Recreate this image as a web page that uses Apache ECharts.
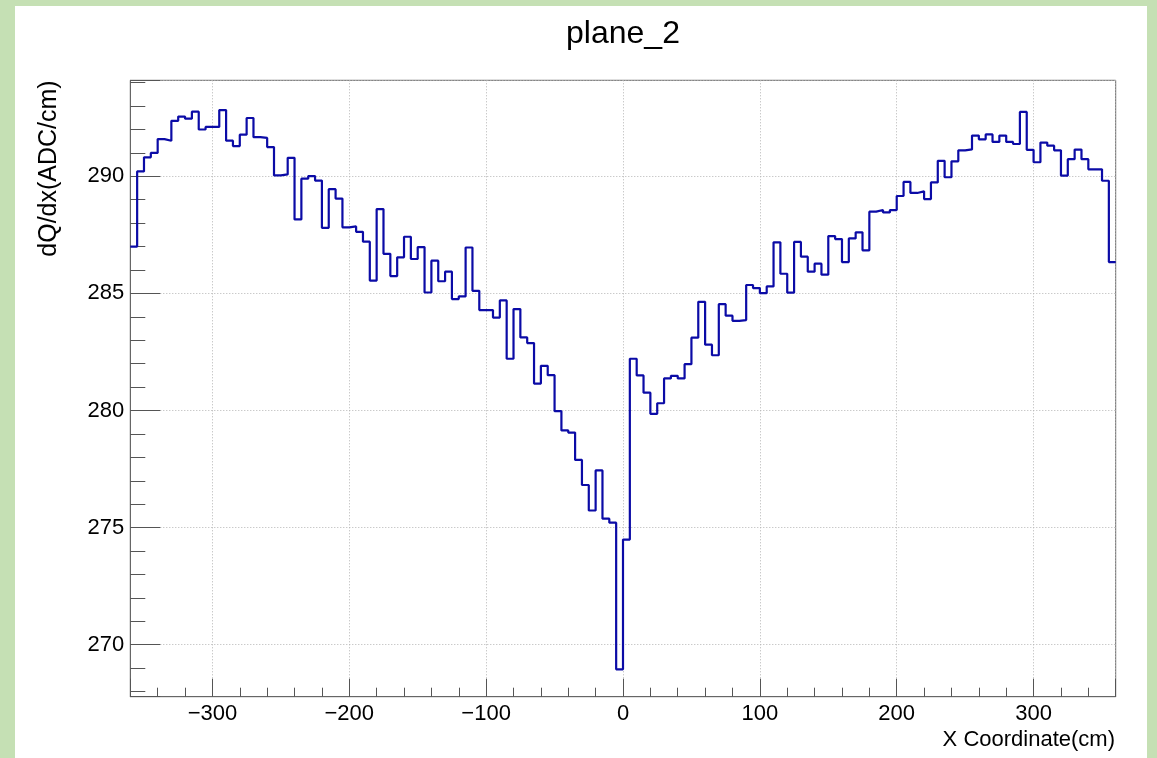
<!DOCTYPE html>
<html>
<head>
<meta charset="utf-8">
<script src="https://cdn.jsdelivr.net/npm/echarts@6/dist/echarts.min.js"></script>
<style>
  html, body { margin: 0; padding: 0; background: #c5e0b4; width: 1157px; height: 758px; overflow: hidden; }
  #chart { position: absolute; left: 15px; top: 6px; width: 1132px; height: 752px; background: #ffffff; }
</style>
</head>
<body>
<div id="chart"></div>
<script>
// Histogram binning (cm)
const xMin = -360;
const xMax = 360;
const binWidth = 5;

// Mean dQ/dx per 5 cm bin, from x = -360 to x = 360 (144 bins)
const dqdx = [
  287.00, 290.21, 290.81, 291.00, 291.59, 291.52, 292.37, 292.55, 292.46, 292.76,
  292.00, 292.11, 292.11, 292.83, 291.52, 291.29, 291.78, 292.49, 291.67, 291.64,
  291.25, 290.04, 290.08, 290.79, 288.16, 289.90, 290.01, 289.82, 287.80, 289.45,
  289.05, 287.82, 287.86, 287.63, 287.21, 285.55, 288.60, 286.69, 285.74, 286.54,
  287.42, 286.47, 286.98, 285.04, 286.40, 285.52, 285.93, 284.76, 284.87, 286.96,
  285.11, 284.29, 284.29, 283.97, 284.70, 282.21, 284.33, 283.12, 282.88, 281.15,
  281.91, 281.51, 279.97, 279.15, 279.06, 277.89, 276.82, 275.73, 277.44, 275.38,
  275.21, 268.95, 274.49, 282.21, 281.50, 280.76, 279.86, 280.31, 281.37, 281.48,
  281.37, 281.98, 283.11, 284.64, 282.81, 282.36, 284.54, 284.05, 283.83, 283.86,
  285.36, 285.23, 285.01, 285.30, 287.18, 285.84, 285.03, 287.20, 286.57, 285.93,
  286.27, 285.80, 287.45, 287.32, 286.34, 287.35, 287.61, 286.84, 288.49, 288.56,
  288.46, 288.56, 289.16, 289.76, 289.29, 289.36, 289.03, 289.74, 290.66, 289.96,
  290.64, 291.11, 291.15, 291.74, 291.58, 291.79, 291.47, 291.74, 291.47, 291.38,
  292.75, 291.13, 290.60, 291.44, 291.31, 291.11, 290.03, 290.73, 291.14, 290.73,
  290.30, 290.30, 289.81, 286.34
];

// Vertical range of the frame
const yMin = 267.78;
const yMax = 294.1;

// Step outline: each bin's value starts at its low edge; close the last bin at xMax
const outline = dqdx.map((v, i) => [xMin + i * binWidth, v]);
outline.push([xMax, dqdx[dqdx.length - 1]]);

const font = '"Liberation Sans", Arial, Helvetica, sans-serif';
const frameColor = '#666666';
const gridLine = { show: true, lineStyle: { color: '#b4b4b4', width: 1, type: [1, 2] } };

const chart = echarts.init(document.getElementById('chart'), null, { renderer: 'canvas' });
chart.setOption({
  animation: false,
  backgroundColor: '#ffffff',
  title: {
    text: 'plane_2',
    left: 603,
    top: 7,
    textAlign: 'center',
    textStyle: { fontFamily: font, fontSize: 32, fontWeight: 'normal', color: '#000' }
  },
  grid: {
    left: 115.3, top: 74.3, right: 31.3, bottom: 61.3,
    show: true, borderColor: frameColor, borderWidth: 1, backgroundColor: 'transparent'
  },
  xAxis: {
    type: 'value',
    min: xMin,
    max: xMax,
    splitNumber: 7,
    axisLine: { show: true, onZero: false, lineStyle: { color: frameColor, width: 1 } },
    axisTick: { show: true, inside: true, length: 18, lineStyle: { color: '#555', width: 1 } },
    minorTick: { show: true, splitNumber: 5, length: 9, lineStyle: { color: '#555', width: 1 } },
    splitLine: gridLine,
    axisLabel: {
      show: true, margin: 6, showMinLabel: false, showMaxLabel: false,
      fontFamily: font, fontSize: 22, color: '#000',
      formatter: v => String(v).replace('-', '\u2212')
    }
  },
  yAxis: {
    type: 'value',
    min: yMin,
    max: yMax,
    splitNumber: 5,
    axisLine: { show: true, onZero: false, lineStyle: { color: frameColor, width: 1 } },
    axisTick: { show: true, inside: true, length: 30, lineStyle: { color: '#555', width: 1 } },
    minorTick: { show: true, splitNumber: 5, length: 15, lineStyle: { color: '#555', width: 1 } },
    splitLine: gridLine,
    axisLabel: {
      show: true, margin: 6, showMinLabel: false, showMaxLabel: false,
      fontFamily: font, fontSize: 22, color: '#000'
    }
  },
  graphic: [
    {
      type: 'text', x: 34.5, y: 74.3, rotation: Math.PI / 2,
      style: { text: 'dQ/dx(ADC/cm)', font: '25px ' + font, fill: '#000', align: 'right', verticalAlign: 'middle' }
    },
    {
      type: 'text', x: 1100, y: 734,
      style: { text: 'X Coordinate(cm)', font: '22px ' + font, fill: '#000', align: 'right', verticalAlign: 'middle' }
    }
  ],
  series: [{
    type: 'line',
    step: 'end',
    data: outline,
    symbol: 'none',
    clip: true,
    lineStyle: { color: '#0b0ba6', width: 2.2 }
  }]
});
</script>
</body>
</html>
